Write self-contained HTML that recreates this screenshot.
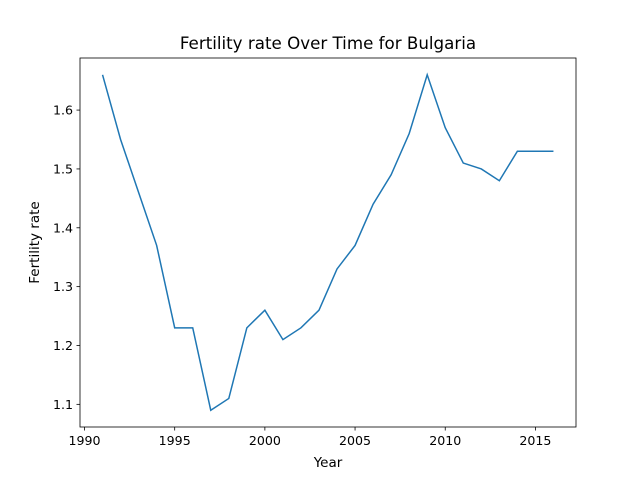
<!DOCTYPE html>
<html><head><meta charset="utf-8"><style>
body{margin:0;background:#fff;font-family:"DejaVu Sans","Liberation Sans",sans-serif}
svg text{font-family:"DejaVu Sans","Liberation Sans",sans-serif}
</style></head><body>
<svg id="chart" width="640" height="480" xmlns="http://www.w3.org/2000/svg">
<rect width="640" height="480" fill="#fff"/>
<text x="328" y="49" font-size="16.7" text-anchor="middle" fill="#000">Fertility rate Over Time for Bulgaria</text>
<g id="xticks"></g>
<g id="yticks"></g>
<path id="line" fill="none" stroke="#1f77b4" stroke-width="1.5"/>
<rect x="80" y="58" width="496" height="369" fill="none" stroke="#000" stroke-width="0.8"/>
<text x="328" y="467" font-size="13.5" text-anchor="middle">Year</text>
<text transform="translate(39,242.5) rotate(-90)" font-size="13.5" text-anchor="middle">Fertility rate</text>
</svg>
<script>
const years=[1991,1992,1993,1994,1995,1996,1997,1998,1999,2000,2001,2002,2003,2004,2005,2006,2007,2008,2009,2010,2011,2012,2013,2014,2015,2016];
const rates=[1.66,1.55,1.46,1.37,1.23,1.23,1.09,1.11,1.23,1.26,1.21,1.23,1.26,1.33,1.37,1.44,1.49,1.56,1.66,1.57,1.51,1.50,1.48,1.53,1.53,1.53];
const xTickLabels=[1990,1995,2000,2005,2010,2015];
const yTickLabels=[1.1,1.2,1.3,1.4,1.5,1.6];
const L=80,R=576,T=58,B=427;
const xmin=1989.75,xmax=2017.25,ymin=1.0615,ymax=1.6885;
const X=v=>L+(v-xmin)/(xmax-xmin)*(R-L);
const Y=v=>B-(v-ymin)/(ymax-ymin)*(B-T);
const NS="http://www.w3.org/2000/svg";
const line=document.getElementById('line');
line.setAttribute('d',years.map((y,i)=>(i?'L':'M')+X(y).toFixed(2)+','+Y(rates[i]).toFixed(2)).join(''));
const xg=document.getElementById('xticks'),yg=document.getElementById('yticks');
xTickLabels.forEach(v=>{
 const l=document.createElementNS(NS,'line');
 l.setAttribute('x1',X(v));l.setAttribute('x2',X(v));l.setAttribute('y1',B);l.setAttribute('y2',B+3.5);l.setAttribute('stroke','#000');l.setAttribute('stroke-width','0.8');
 
 
 xg.appendChild(l);
 const t=document.createElementNS(NS,'text');
 t.setAttribute('x',X(v));t.setAttribute('y',B+18);t.setAttribute('font-size','12.6');t.setAttribute('text-anchor','middle');t.textContent=v;
 
 
 xg.appendChild(t);
});
yTickLabels.forEach(v=>{
 const l=document.createElementNS(NS,'line');
 l.setAttribute('x1',L-3.5);l.setAttribute('x2',L);l.setAttribute('y1',Y(v));l.setAttribute('y2',Y(v));l.setAttribute('stroke','#000');l.setAttribute('stroke-width','0.8');
 
 
 yg.appendChild(l);
 const t=document.createElementNS(NS,'text');
 t.setAttribute('x',L-7);t.setAttribute('y',Y(v)+4.5);t.setAttribute('font-size','12.6');t.setAttribute('text-anchor','end');t.textContent=v.toFixed(1);
 
 
 yg.appendChild(t);
});
</script>
</body></html>
